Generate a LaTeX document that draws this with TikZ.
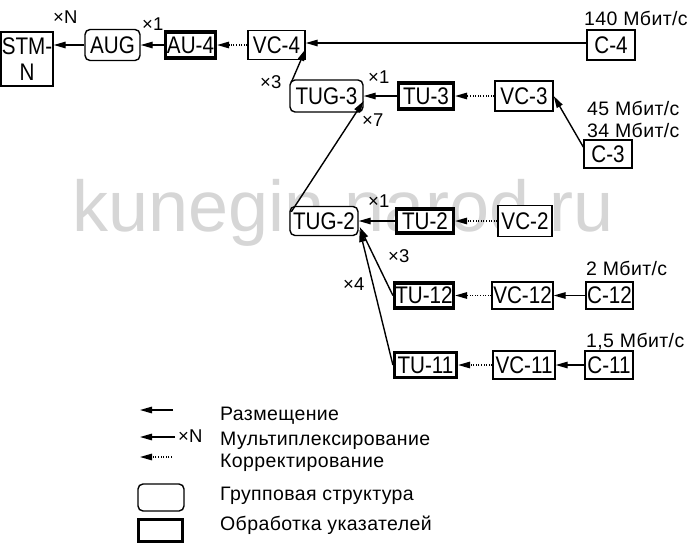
\documentclass[tikz,border=0pt]{standalone}
\usepackage{fontspec}
\setmainfont{Liberation Sans}
\newfontfamily\boxfont[FakeStretch=0.86]{Liberation Sans}
\newfontfamily\lblfont[LetterSpace=2]{Liberation Sans}
\usetikzlibrary{arrows.meta}
\tikzset{
  blk/.style={draw, fill=white, line width=1.4pt, inner sep=0pt,
    font=\boxfont\fontsize{24}{26}\selectfont},
  grp/.style={blk, rounded corners=5pt},
  ptr/.style={blk, line width=3.2pt},
  sz/.style 2 args={minimum width=#1pt, minimum height=#2pt},
  lbl/.style={anchor=base west, inner sep=0pt, font=\lblfont\fontsize{19.5}{22}\selectfont},
  mul/.style={anchor=base west, inner sep=0pt, font=\fontsize{18.5}{20}\selectfont},
  arr/.style={line width=1.4pt, -{Triangle[length=12pt,width=6.5pt]}},
  adj/.style={arr, dash pattern=on 1pt off 1.6pt}}

\begin{document}
\begin{tikzpicture}[x=1pt,y=-1pt]
  \useasboundingbox (0,0) rectangle (696,552);
  \node[anchor=base, inner sep=0pt, text=black!16,
    font=\fontsize{72}{74}\selectfont] (wm) at (343,231) {kunegin.narod.ru};

  \node[blk, sz={52}{54}, align=center] (stm) at (27,59) {STM-\\N};
  \node[grp, sz={55}{31}] (aug) at (112.5,45) {AUG};
  \node[ptr, sz={50}{26}] (au4) at (190.5,45) {AU-4};
  \node[blk, sz={57}{29}] (vc4) at (276.5,45) {VC-4};
  \node[blk, sz={48}{30}] (c4) at (611,45) {C-4};
  \node[grp, sz={73}{32}] (tug3) at (326.5,96) {TUG-3};
  \node[ptr, sz={55}{26}] (tu3) at (426,96) {TU-3};
  \node[blk, sz={58}{30}] (vc3) at (524,96) {VC-3};
  \node[blk, sz={48}{28}] (c3) at (608,154) {C-3};
  \node[grp, sz={68}{29}] (tug2) at (324,221) {TUG-2};
  \node[ptr, sz={57}{24}] (tu2) at (425,221) {TU-2};
  \node[blk, sz={54}{31}] (vc2) at (525,221) {VC-2};
  \node[ptr, sz={59}{25}] (tu12) at (424,295.5) {TU-12};
  \node[blk, sz={61}{27}] (vc12) at (522.5,295.5) {VC-12};
  \node[blk, sz={47}{27}] (c12) at (609.5,295.5) {C-12};
  \node[ptr, sz={62}{25}] (tu11) at (425.5,365) {TU-11};
  \node[blk, sz={62}{28}] (vc11) at (524,365) {VC-11};
  \node[blk, sz={48}{28}] (c11) at (609,365) {C-11};

  \draw[arr] (aug.west) -- (aug.west -| stm.east);
  \draw[arr] (au4.west) -- (aug.east);
  \draw[adj] (vc4.west) -- (au4.east);
  \draw[arr] ([yshift=2pt]c4.west) -- ([yshift=2pt]vc4.east);
  \draw[arr] ([shift={(2pt,-3pt)}]tug3.north west) -- ([yshift=-4pt]vc4.east);
  \draw[arr] (tu3.west) -- (tug3.east);
  \draw[adj] (vc3.west) -- (tu3.east);
  \draw[arr] ([yshift=7pt]c3.west) -- (vc3.east);
  \draw[arr] ([shift={(2pt,-6pt)}]tug2.north west) -- ([yshift=-5pt]tug3.east);
  \draw[arr] (tu2.west) -- (tug2.east);
  \draw[adj] (vc2.west) -- (tu2.east);
  \draw[arr] (tu12.west) -- ([shift={(1pt,-6pt)}]tug2.east);
  \draw[arr] (tu11.west) -- ([shift={(1pt,-9pt)}]tug2.east);
  \draw[adj] (vc12.west) -- (tu12.east);
  \draw[arr] (c12.west) -- (vc12.east);
  \draw[adj] (vc11.west) -- (tu11.east);
  \draw[arr] (c11.west) -- (vc11.east);

  \node[lbl] (r4) at (584,25) {140 Мбит/с};
  \node[lbl] (r3a) at (587,115) {45 Мбит/с};
  \node[lbl] (r3b) at (587,137) {34 Мбит/с};
  \node[lbl] (r12) at (586,275) {2 Мбит/с};
  \node[lbl] (r11) at (586,347) {1,5 Мбит/с};
  \node[mul] (mN) at (53,23) {×N};
  \node[mul] (m1a) at (142,30) {×1};
  \node[mul] (m3a) at (260,88) {×3};
  \node[mul] (m1b) at (368,83) {×1};
  \node[mul] (m7) at (362,126) {×7};
  \node[mul] (m1c) at (368,207) {×1};
  \node[mul] (m3b) at (388,262) {×3};
  \node[mul] (m4) at (343,290) {×4};

  \coordinate (k1) at (173,410); \coordinate (k1e) at (140,410);
  \coordinate (k2) at (175,437); \coordinate (k2e) at (140,437);
  \coordinate (k3) at (172,457); \coordinate (k3e) at (140,457);
  \draw[arr] (k1) -- (k1e);
  \draw[arr] (k2) -- (k2e);
  \draw[adj] (k3) -- (k3e);
  \node[mul] (kN) at (178,442) {×N};
  \node[grp, sz={46}{27}] (kg) at (161,497.5) {};
  \node[ptr, sz={44}{22}] (kp) at (160.5,530.5) {};
  \node[lbl] (t1) at (220,420) {Размещение};
  \node[lbl] (t2) at (220,445) {Мультиплексирование};
  \node[lbl] (t3) at (220,467) {Корректирование};
  \node[lbl] (t4) at (220,500) {Групповая структура};
  \node[lbl] (t5) at (220,530) {Обработка указателей};
\end{tikzpicture}
\end{document}
